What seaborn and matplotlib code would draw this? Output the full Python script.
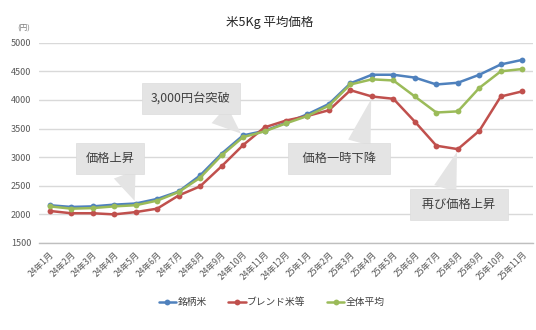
import matplotlib
matplotlib.use("Agg")
import matplotlib.pyplot as plt
import seaborn as sns
import pandas as pd
import numpy as np

months = ["24年1月", "24年2月", "24年3月", "24年4月", "24年5月", "24年6月", "24年7月",
          "24年8月", "24年9月", "24年10月", "24年11月", "24年12月", "25年1月", "25年2月",
          "25年3月", "25年4月", "25年5月", "25年6月", "25年7月", "25年8月", "25年9月",
          "25年10月", "25年11月"]
brand_rice = [2160, 2130, 2140, 2170, 2190, 2270, 2400, 2680, 3060, 3380, 3460, 3600,
              3750, 3930, 4290, 4440, 4440, 4390, 4270, 4300, 4440, 4620, 4700]
blend_rice = [2060, 2020, 2020, 2000, 2040, 2100, 2330, 2490, 2840, 3210, 3520, 3640,
              3720, 3820, 4170, 4060, 4020, 3620, 3200, 3140, 3460, 4060, 4150]
overall_avg = [2140, 2100, 2110, 2140, 2160, 2240, 2390, 2640, 3030, 3350, 3450, 3590,
               3720, 3900, 4270, 4360, 4340, 4060, 3780, 3800, 4210, 4500, 4540]
series_names = ["銘柄米", "ブレンド米等", "全体平均"]
y_ticks = [1500, 2000, 2500, 3000, 3500, 4000, 4500, 5000]
title = "米5Kg 平均価格"
unit_label = "(円)"
callout_texts = ["価格上昇", "3,000円台突破", "価格一時下降", "再び価格上昇"]

colors = ["#4f81bd", "#c0504d", "#9bbb59"]

df = pd.DataFrame({
    "month": months * 3,
    "price": brand_rice + blend_rice + overall_avg,
    "series": [series_names[0]] * len(months) + [series_names[1]] * len(months)
              + [series_names[2]] * len(months),
})

sns.set_theme(style="white")
plt.rcParams["font.family"] = ["Noto Sans CJK JP", "DejaVu Sans"]

fig = plt.figure(figsize=(5.36, 3.30), dpi=100)
ax = fig.add_axes([39 / 536, 1 - 243 / 330, (533 - 39) / 536, (243 - 42.7) / 330])

sns.lineplot(data=df, x="month", y="price", hue="series", hue_order=series_names,
             palette=colors, marker="o", markersize=4.2, markeredgewidth=0,
             linewidth=1.8, sort=False, ax=ax, legend=True)

n = len(months)
ax.set_xlim(-0.5, n - 0.5)
ax.set_ylim(y_ticks[0], y_ticks[-1])
ax.set_yticks(y_ticks)
ax.set_xticks(range(n))
ax.set_xticklabels(months, rotation=45, ha="right", rotation_mode="anchor")
ax.set_xticks(np.arange(-0.5, n, 1.0), minor=True)
ax.tick_params(axis="x", which="major", length=0, pad=5, labelsize=6.2, colors="#595959")
ax.tick_params(axis="x", which="minor", length=4, width=0.8, color="#bfbfbf", direction="out")
ax.tick_params(axis="y", length=0, pad=5.5, labelsize=6.5, colors="#595959")
ax.set_xlabel("")
ax.set_ylabel("")
ax.grid(axis="y", color="#d9d9d9", linewidth=1.0)
ax.grid(axis="x", visible=False)
for s in ["left", "right", "top"]:
    ax.spines[s].set_visible(False)
ax.spines["bottom"].set_color("#bfbfbf")
ax.spines["bottom"].set_linewidth(1.0)
ax.set_axisbelow(True)

# legend
handles, labels = ax.get_legend_handles_labels()
ax.legend_.remove()
fig.legend(handles, labels, loc="center", bbox_to_anchor=(0.507, 1 - 302 / 330), ncol=3,
           frameon=False, fontsize=7, handlelength=1.8, columnspacing=2.2,
           handletextpad=0.15, labelcolor="#404040")

fig.text(0.504, 1 - 22 / 330, title, ha="center", va="center", fontsize=9, color="#262626")
fig.text(24 / 536, 1 - 29 / 330, unit_label, ha="center", va="center", fontsize=5.5,
         color="#7f7f7f")

# callouts: (text index, target series, target month index, text pos (idx, val), relpos, padding)
callouts = [
    (0, brand_rice, 4, (2.80, 2976), (0.73, 0.0), ""),
    (1, brand_rice, 9, (6.58, 4025), (0.72, 0.0), ""),
    (2, blend_rice, 15, (13.47, 2976), (0.71, 1.0), "  "),
    (3, blend_rice, 19, (19.05, 2173), (0.29, 1.0), " "),
]
for ti, ser, mi, tpos, rel, sp in callouts:
    ax.annotate(sp + callout_texts[ti] + sp, xy=(mi, ser[mi]), xytext=tpos,
                ha="center", va="center", fontsize=8.8, color="#404040",
                bbox=dict(boxstyle="square,pad=0.75", fc="#e4e4e4", ec="#dcdcdc", lw=0.5),
                arrowprops=dict(arrowstyle="wedge,tail_width=1.9", fc="#e4e4e4",
                                ec="none", relpos=rel, shrinkA=0, shrinkB=2),
                zorder=5)

fig.savefig("out.png", dpi=100)
